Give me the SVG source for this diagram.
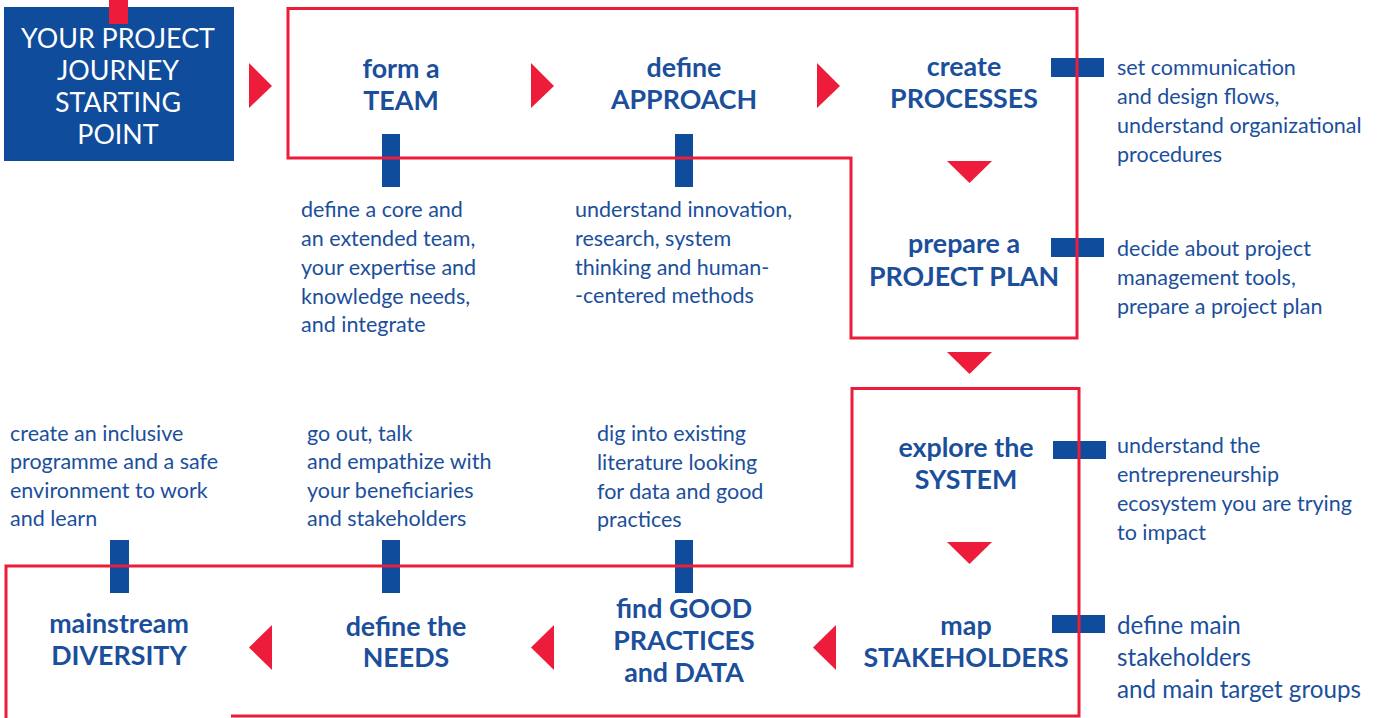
<svg xmlns="http://www.w3.org/2000/svg" width="1381" height="718" viewBox="0 0 1381 718">
  <style>
    .title { font-family: Lato, "Open Sans", sans-serif; font-weight: bold; font-size: 26.8px; fill: #1b4f9c; text-anchor: middle; }
    .desc { font-family: Lato, "Open Sans", sans-serif; font-size: 21.5px; fill: #1b4f9c; }
    .desc-lg { font-size: 24.2px; }
    .start { font-family: Lato, "Open Sans", sans-serif; font-size: 26.8px; fill: #ffffff; text-anchor: middle; }
    .bar { fill: #0f4c9b; }
    .arrow { fill: #ec1c3a; }
    .frame { fill: none; stroke: #ec1c3a; stroke-width: 3; }
  </style>
  <rect width="1381" height="718" fill="#ffffff"/>

  <!-- start box -->
  <g id="start">
    <rect x="4" y="7" width="230" height="154" fill="#0f4c9b"/>
    <rect x="109" y="0" width="19" height="24" fill="#ec1c3a"/>
    <text class="start" x="118" y="48">YOUR PROJECT</text>
    <text class="start" x="118" y="80">JOURNEY</text>
    <text class="start" x="118" y="112">STARTING</text>
    <text class="start" x="118" y="144">POINT</text>
  </g>

  <!-- connectors: description bars and flow arrows -->
  <g id="connectors">
    <rect class="bar" x="382" y="134" width="18" height="53"/>
    <rect class="bar" x="675" y="134" width="18" height="53"/>
    <rect class="bar" x="1051" y="58" width="53" height="19"/>
    <rect class="bar" x="1051" y="238" width="53" height="19"/>
    <rect class="bar" x="1053" y="441" width="53" height="18"/>
    <rect class="bar" x="1052" y="615" width="53" height="18"/>
    <rect class="bar" x="675" y="540" width="18" height="53"/>
    <rect class="bar" x="382" y="540" width="18" height="53"/>
    <rect class="bar" x="110" y="540" width="19" height="53"/>

    <polygon class="arrow" points="249,63 272,86 249,108"/>
    <polygon class="arrow" points="531,63 554,86 531,108"/>
    <polygon class="arrow" points="817,63 840,86 817,108"/>
    <polygon class="arrow" points="947,161 992,161 969.5,183"/>
    <polygon class="arrow" points="947,352 992,352 969.5,374"/>
    <polygon class="arrow" points="947,542 992,542 969.5,564"/>
    <polygon class="arrow" points="836,625 813,647.5 836,670"/>
    <polygon class="arrow" points="554,625 531,647.5 554,670"/>
    <polygon class="arrow" points="272,625 249,647.5 272,670"/>
  </g>

  <!-- stage frames -->
  <path class="frame" d="M288,8.5 H1077 V338 H851 V158 H288 Z"/>
  <path class="frame" d="M6,718 V566 H852 V388.5 H1079 V716 H231"/>

  <g id="team">
    <text class="title" x="401" y="78">form a</text>
    <text class="title" x="401" y="110">TEAM</text>
    <text class="desc" x="301" y="217">define a core and</text>
    <text class="desc" x="301" y="246">an extended team,</text>
    <text class="desc" x="301" y="275">your expertise and</text>
    <text class="desc" x="301" y="304">knowledge needs,</text>
    <text class="desc" x="301" y="332">and integrate</text>
  </g>

  <g id="approach">
    <text class="title" x="684" y="77">define</text>
    <text class="title" x="684" y="109">APPROACH</text>
    <text class="desc" x="575" y="217">understand innovation,</text>
    <text class="desc" x="575" y="246">research, system</text>
    <text class="desc" x="575" y="275">thinking and human-</text>
    <text class="desc" x="575" y="303">-centered methods</text>
  </g>

  <g id="processes">
    <text class="title" x="964" y="76">create</text>
    <text class="title" x="964" y="108">PROCESSES</text>
    <text class="desc" x="1117" y="75">set communication</text>
    <text class="desc" x="1117" y="104">and design flows,</text>
    <text class="desc" x="1117" y="133">understand organizational</text>
    <text class="desc" x="1117" y="162">procedures</text>
  </g>

  <g id="project-plan">
    <text class="title" x="964" y="253">prepare a</text>
    <text class="title" x="964" y="286">PROJECT PLAN</text>
    <text class="desc" x="1117" y="256">decide about project</text>
    <text class="desc" x="1117" y="285">management tools,</text>
    <text class="desc" x="1117" y="314">prepare a project plan</text>
  </g>

  <g id="system">
    <text class="title" x="966" y="457">explore the</text>
    <text class="title" x="966" y="489">SYSTEM</text>
    <text class="desc" x="1117" y="453">understand the</text>
    <text class="desc" x="1117" y="482">entrepreneurship</text>
    <text class="desc" x="1117" y="511">ecosystem you are trying</text>
    <text class="desc" x="1117" y="540">to impact</text>
  </g>

  <g id="stakeholders">
    <text class="title" x="966" y="635">map</text>
    <text class="title" x="966" y="667">STAKEHOLDERS</text>
    <text class="desc desc-lg" x="1117" y="634">define main</text>
    <text class="desc desc-lg" x="1117" y="666">stakeholders</text>
    <text class="desc desc-lg" x="1117" y="698">and main target groups</text>
  </g>

  <g id="good-practices">
    <text class="title" x="684" y="618">find GOOD</text>
    <text class="title" x="684" y="650">PRACTICES</text>
    <text class="title" x="684" y="682">and DATA</text>
    <text class="desc" x="597" y="441">dig into existing</text>
    <text class="desc" x="597" y="470">literature looking</text>
    <text class="desc" x="597" y="499">for data and good</text>
    <text class="desc" x="597" y="527">practices</text>
  </g>

  <g id="needs">
    <text class="title" x="406" y="636">define the</text>
    <text class="title" x="406" y="667">NEEDS</text>
    <text class="desc" x="307" y="441">go out, talk</text>
    <text class="desc" x="307" y="469">and empathize with</text>
    <text class="desc" x="307" y="498">your beneficiaries</text>
    <text class="desc" x="307" y="526">and stakeholders</text>
  </g>

  <g id="diversity">
    <text class="title" x="119" y="633">mainstream</text>
    <text class="title" x="119" y="665">DIVERSITY</text>
    <text class="desc" x="10" y="441">create an inclusive</text>
    <text class="desc" x="10" y="469">programme and a safe</text>
    <text class="desc" x="10" y="498">environment to work</text>
    <text class="desc" x="10" y="526">and learn</text>
  </g>
</svg>
